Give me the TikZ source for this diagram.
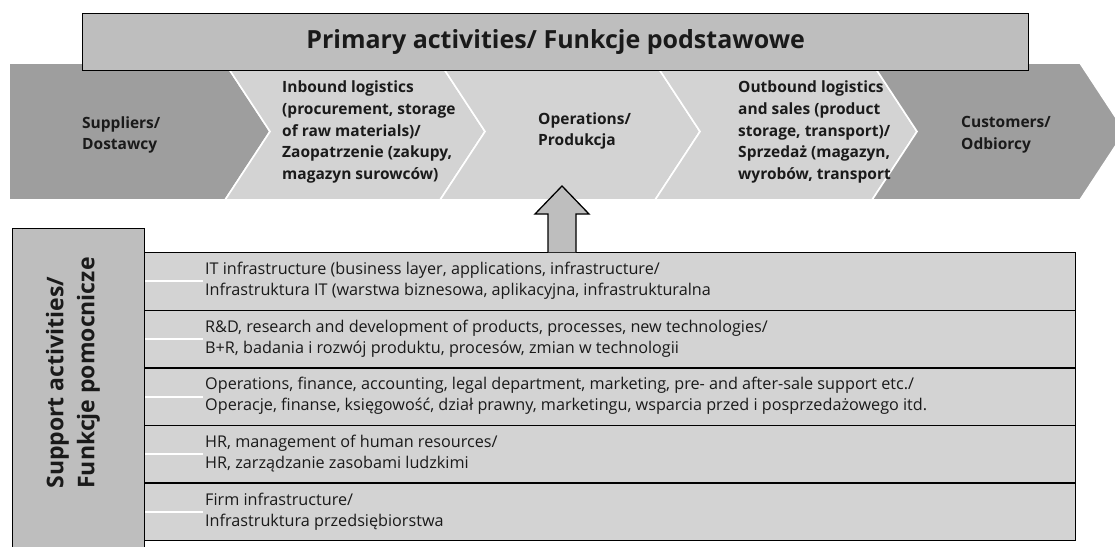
\documentclass[tikz,border=0pt]{standalone}
\usepackage{fontspec}
\setmainfont{Open Sans}
\definecolor{bannergray}{HTML}{BEBEBE}
\definecolor{chevlight}{HTML}{D3D3D3}
\definecolor{chevdark}{HTML}{9E9E9E}
\definecolor{rowgray}{HTML}{D3D3D3}
\definecolor{txt}{HTML}{1A1A1A}
\begin{document}
\begin{tikzpicture}[x=1pt,y=-1pt,
  chevl/.style={fill=chevlight, draw=white, line width=1.6pt, line join=miter},
  chevd/.style={fill=chevdark, draw=white, line width=1.6pt, line join=miter},
  chevtext/.style={font=\fontsize{15.5}{21.7}\selectfont\bfseries, text=txt, align=left, anchor=west, inner sep=0pt},
  bannerbox/.style={fill=bannergray, draw=black, line width=1.3pt, minimum width=946pt, minimum height=57pt, anchor=north west, inner sep=0pt, font=\fontsize{25}{30}\selectfont\bfseries, text=txt},
  rowbox/.style={fill=rowgray, draw=black, line width=1.3pt, minimum width=931pt, minimum height=57.6pt, anchor=north west, inner sep=0pt},
  rowtext/.style={font=\fontsize{16.2}{21}\selectfont, text=txt, align=left, anchor=west, inner sep=0pt},
  supbox/.style={fill=bannergray, draw=black, line width=1.3pt, minimum width=132pt, minimum height=330pt, anchor=north west, inner sep=0pt},
  whiteline/.style={draw=white, line width=2pt},
  uparrow/.style={fill=bannergray, draw=black, line width=1.3pt, line join=miter}
]
\useasboundingbox (0,0) rectangle (1115,546);

% chevron band
\fill[chevd] (9,63) -- (225,63) -- (270,131.5) -- (225,200) -- (9,200) -- cycle;
\filldraw[chevl] (225,63) -- (440,63) -- (485,131.5) -- (440,200) -- (225,200) -- (270,131.5) -- cycle;
\filldraw[chevl] (440,63) -- (655,63) -- (700,131.5) -- (655,200) -- (440,200) -- (485,131.5) -- cycle;
\filldraw[chevl] (655,63) -- (872,63) -- (917,131.5) -- (872,200) -- (655,200) -- (700,131.5) -- cycle;
\filldraw[chevd] (872,63) -- (1080,63) -- (1125,131.5) -- (1080,200) -- (872,200) -- (917,131.5) -- cycle;

\node[chevtext] (sup) at (82,135) {Suppliers/\\Dostawcy};
\node[chevtext] (inb) at (282,132) {Inbound logistics\\(procurement, storage\\of raw materials)/\\Zaopatrzenie (zakupy,\\magazyn surowców)};
\node[chevtext] (ops) at (538,131) {Operations/\\Produkcja};
\node[chevtext] (outb) at (738,132) {Outbound logistics\\and sales (product\\storage, transport)/\\Sprzedaż (magazyn,\\wyrobów, transport};
\node[chevtext] (cust) at (961,135) {Customers/\\Odbiorcy};

% banner
\node[bannerbox] (banner) at (82,13) {Primary activities/ Funkcje podstawowe};

% support rows
\node[rowbox] (r1) at (144,252) {};
\node[rowbox] (r2) at (144,309.6) {};
\node[rowbox] (r3) at (144,367.2) {};
\node[rowbox] (r4) at (144,424.8) {};
\node[rowbox] (r5) at (144,482.4) {};

\foreach \r in {r1,r2,r3,r4,r5} {
  \draw[whiteline] (\r.west) -- ++(59,0);
}

\node[rowtext] (t1) at (205,281) {IT infrastructure (business layer, applications, infrastructure/\\Infrastruktura IT (warstwa biznesowa, aplikacyjna, infrastrukturalna};
\node[rowtext] (t2) at (205,338.6) {R\&D, research and development of products, processes, new technologies/\\B+R, badania i rozwój produktu, procesów, zmian w technologii};
\node[rowtext] (t3) at (205,396.2) {Operations, finance, accounting, legal department, marketing, pre- and after-sale support etc./\\Operacje, finanse, księgowość, dział prawny, marketingu, wsparcia przed i posprzedażowego itd.};
\node[rowtext] (t4) at (205,453.8) {HR, management of human resources/\\HR, zarządzanie zasobami ludzkimi};
\node[rowtext] (t5) at (205,511.4) {Firm infrastructure/\\Infrastruktura przedsiębiorstwa};

% support box
\node[supbox] (supp) at (12,228) {};
\node[rotate=90, align=left, font=\fontsize{23}{31}\selectfont\bfseries, text=txt, inner sep=0pt] (supptext) at (73,373) {Support activities/\\Funkcje pomocnicze};

% up arrow
\fill[bannergray] (548,252) -- (548,214) -- (535,214) -- (562,186) -- (589,214) -- (576,214) -- (576,252) -- cycle;
\draw[uparrow] (548,252) -- (548,214) -- (535,214) -- (562,186) -- (589,214) -- (576,214) -- (576,252);
\end{tikzpicture}
\end{document}
